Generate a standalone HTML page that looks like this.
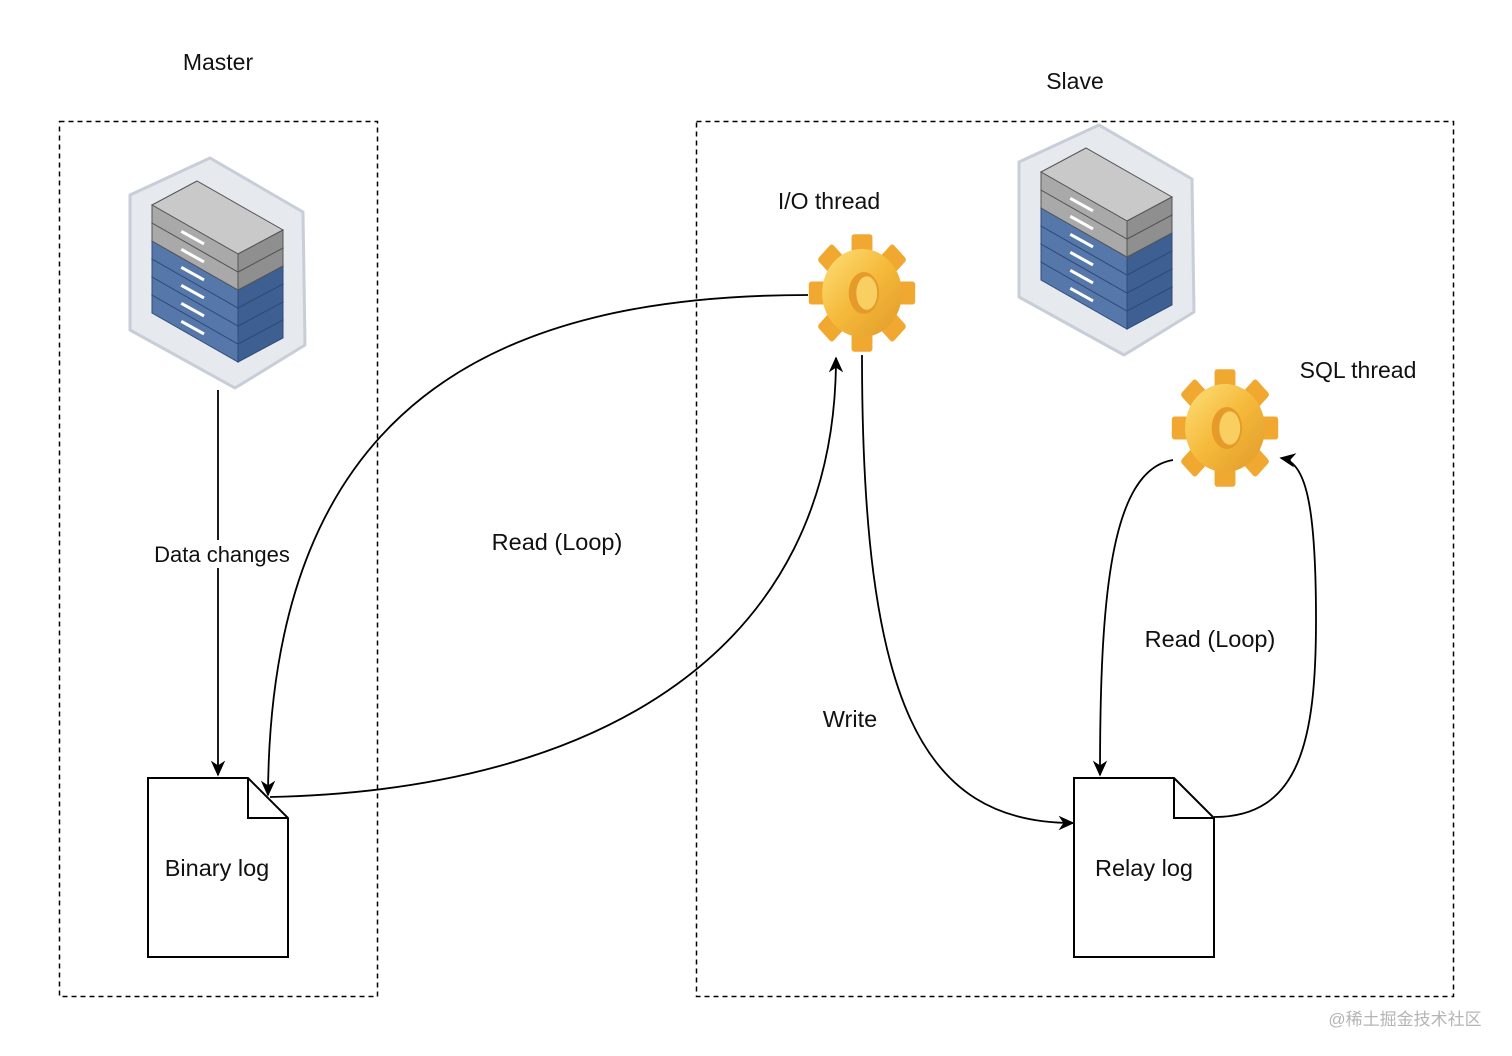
<!DOCTYPE html>
<html><head><meta charset="utf-8"><style>
html,body{margin:0;padding:0;background:#fff;}
svg{display:block;}
text{font-family:"Liberation Sans",Arial,sans-serif;fill:#111;}
</style></head><body>
<svg width="1512" height="1056" viewBox="0 0 1512 1056" xmlns="http://www.w3.org/2000/svg">
<defs>
<marker id="ar" viewBox="0 0 10 10" refX="9" refY="5" markerWidth="16" markerHeight="16" orient="auto" markerUnits="userSpaceOnUse">
<path d="M0,0.5 L10,5 L0,9.5 L3,5 z" fill="#000"/></marker>
<linearGradient id="gold" x1="0" y1="0" x2="1" y2="1">
<stop offset="0" stop-color="#fde07a"/><stop offset="0.5" stop-color="#f5b93a"/><stop offset="1" stop-color="#e09a2a"/></linearGradient>
<g id="slabG">
<polygon points="152,205 197,181 283,230 238,254" fill="#c9c9c9" stroke="#555" stroke-width="1"/>
<polygon points="152,205 238,254 238,272 152,223" fill="#a9a9a9" stroke="#555" stroke-width="1"/>
<polygon points="238,254 283,230 283,248 238,272" fill="#8f8f8f" stroke="#555" stroke-width="1"/>
<rect x="182" y="230" width="26" height="3" fill="#fff" transform="rotate(29 182 230)"/>
</g>
<g id="slabB">
<polygon points="152,205 197,181 283,230 238,254" fill="#6d8fc0" stroke="#2f4a78" stroke-width="1"/>
<polygon points="152,205 238,254 238,272 152,223" fill="#5577aa" stroke="#2f4a78" stroke-width="1"/>
<polygon points="238,254 283,230 283,248 238,272" fill="#3e5f92" stroke="#2f4a78" stroke-width="1"/>
<rect x="182" y="230" width="26" height="3" fill="#fff" transform="rotate(29 182 230)"/>
</g>
<g id="server">
<polygon points="130,195 210,158 303,212 305,345 235,388 130,330" fill="#e6e9ee" stroke="#c8ced8" stroke-width="3" stroke-linejoin="round"/>
<use href="#slabB" y="90"/><use href="#slabB" y="72"/><use href="#slabB" y="54"/><use href="#slabB" y="36"/>
<use href="#slabG" y="18"/><use href="#slabG" y="0"/>
</g>
<g id="gear">
<g fill="#f0a830">
<rect x="-11" y="-56" width="22" height="112" rx="3"/>
<rect x="-11" y="-56" width="22" height="112" rx="3" transform="rotate(45)"/>
<rect x="-11" y="-56" width="22" height="112" rx="3" transform="rotate(90)"/>
<rect x="-11" y="-56" width="22" height="112" rx="3" transform="rotate(135)"/>
</g>
<circle r="42" fill="url(#gold)"/>
<ellipse cx="2" cy="0" rx="16" ry="20" fill="#e69a2a"/>
<ellipse cx="5" cy="0" rx="11" ry="16" fill="#f8cf60"/>
</g>
</defs>

<rect x="59.5" y="121.5" width="318" height="875" fill="none" stroke="#000" stroke-width="1.5" stroke-dasharray="5,4"/>
<rect x="696.5" y="121.5" width="757" height="875" fill="none" stroke="#000" stroke-width="1.5" stroke-dasharray="5,4"/>

<text x="218" y="70" font-size="23" text-anchor="middle">Master</text>
<text x="1075" y="89" font-size="23" text-anchor="middle">Slave</text>
<text x="829" y="209" font-size="23" text-anchor="middle">I/O thread</text>
<text x="1358" y="378" font-size="23" text-anchor="middle">SQL thread</text>

<use href="#server"/>
<use href="#server" x="889" y="-33"/>

<use href="#gear" transform="translate(862,293) scale(0.95,1.05)"/>
<use href="#gear" transform="translate(1225,428) scale(0.95,1.05)"/>

<g fill="none" stroke="#000" stroke-width="1.8">
<path d="M218,390 L218,775" marker-end="url(#ar)"/>
<path d="M808,295 C500,295 270,400 268,795" marker-end="url(#ar)"/>
<path d="M270,797 C600,790 836,650 836,358" marker-end="url(#ar)"/>
<path d="M862,355 C862,700 920,823 1073,823" marker-end="url(#ar)"/>
<path d="M1173,460 C1110,470 1100,600 1100,775" marker-end="url(#ar)"/>
<path d="M1214,817 C1300,817 1316,740 1316,620 C1316,500 1305,462 1281,458" marker-end="url(#ar)"/>
</g>

<rect x="150" y="540" width="140" height="28" fill="#fff"/>
<text x="222" y="562" font-size="22" text-anchor="middle">Data changes</text>
<text x="557" y="550" font-size="23.5" text-anchor="middle">Read (Loop)</text>
<text x="1210" y="647" font-size="23.5" text-anchor="middle">Read (Loop)</text>
<text x="850" y="727" font-size="23.5" text-anchor="middle">Write</text>

<path d="M148,778 L248,778 L288,818 L288,957 L148,957 Z M248,778 L248,818 L288,818" fill="#fff" stroke="#000" stroke-width="2"/>
<text x="217" y="876" font-size="23.5" text-anchor="middle">Binary log</text>
<path d="M1074,778 L1174,778 L1214,818 L1214,957 L1074,957 Z M1174,778 L1174,818 L1214,818" fill="#fff" stroke="#000" stroke-width="2"/>
<text x="1144" y="876" font-size="23.5" text-anchor="middle">Relay log</text>

<text x="1405" y="1025" font-size="17" text-anchor="middle" style="font-family:'Liberation Sans','Noto Sans CJK SC',sans-serif;fill:#b5b5b5">@稀土掘金技术社区</text>
</svg>
</body></html>
